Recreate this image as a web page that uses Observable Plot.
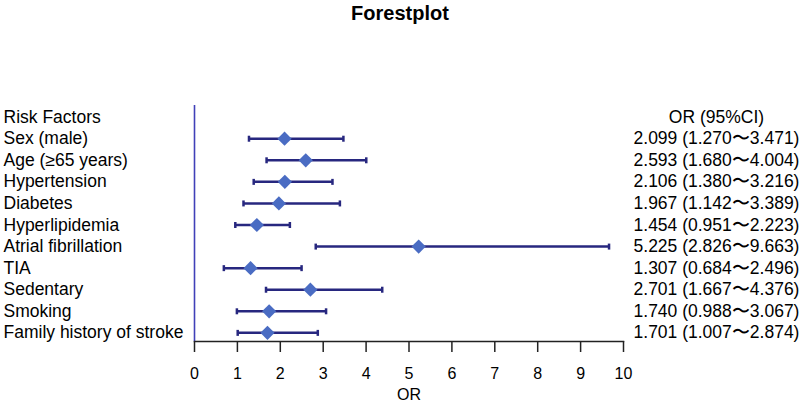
<!DOCTYPE html>
<html>
<head>
<meta charset="utf-8">
<script src="https://cdn.jsdelivr.net/npm/d3@7"></script>
<script src="https://cdn.jsdelivr.net/npm/@observablehq/plot@0.6"></script>
<style>
  html, body { margin: 0; padding: 0; background: #fff; }
  #title { width: 800px; height: 26px; line-height: 26px; text-align: center;
           font-family: "Liberation Sans", Arial, sans-serif; font-weight: bold; font-size: 20px; color: #000; }
  #chart svg { display: block; }
</style>
</head>
<body>
<div id="title">Forestplot</div>
<div id="chart"></div>
<script>
const headerLeft = "Risk Factors";
const headerRight = "OR (95%CI)";
const factors = ["Sex (male)", "Age (≥65 years)", "Hypertension", "Diabetes", "Hyperlipidemia",
  "Atrial fibrillation", "TIA", "Sedentary", "Smoking", "Family history of stroke"];
const orValues = [2.099, 2.593, 2.106, 1.967, 1.454, 5.225, 1.307, 2.701, 1.740, 1.701];
const lowerCI  = [1.270, 1.680, 1.380, 1.142, 0.951, 2.826, 0.684, 1.667, 0.988, 1.007];
const upperCI  = [3.471, 4.004, 3.216, 3.389, 2.223, 9.663, 2.496, 4.376, 3.067, 2.874];
const xTicks = [0, 1, 2, 3, 4, 5, 6, 7, 8, 9, 10];
const axisLabel = "OR";

const rows = factors.map((f, i) => ({
  row: i + 1, factor: f, or: orValues[i], lo: lowerCI[i], hi: upperCI[i],
  text: `${orValues[i].toFixed(3)} (${lowerCI[i].toFixed(3)}〜${upperCI[i].toFixed(3)})`
}));
const header = [{row: 0, left: headerLeft, right: headerRight}];

const capSymbol = {
  draw(context, size) {
    const h = Math.sqrt(size / Math.PI);
    context.moveTo(0, -h);
    context.lineTo(0, h);
  }
};

const navy = "#27277f";
const diamondBlue = "#4a6cc3";
const vlineBlue = "#4040b8";
const font = "'Liberation Sans', Arial, sans-serif";

const chart = Plot.plot({
  width: 800,
  height: 375,
  marginLeft: 194,
  marginRight: 177,
  marginTop: 79,
  marginBottom: 60,
  style: {fontFamily: font, fontSize: "16px", color: "#000", background: "#fff"},
  x: {domain: [0, 10]},
  y: {domain: [-0.54, 10.40], reverse: true, axis: null},
  marks: [
    Plot.ruleX([0], {stroke: vlineBlue, strokeWidth: 1.6}),
    Plot.frame({anchor: "bottom", stroke: "#222", strokeWidth: 1.5}),
    Plot.axisX({ticks: xTicks, tickSize: 11, tickPadding: 15, tickFormat: d => String(d),
      stroke: "#222", strokeWidth: 1.5, fontSize: 16,
      label: axisLabel, labelAnchor: "center", labelOffset: 58, labelArrow: "none"}),
    Plot.ruleY(rows, {y: "row", x1: "lo", x2: "hi", stroke: navy, strokeWidth: 2.5}),
    Plot.dot(rows, {x: "lo", y: "row", symbol: capSymbol, r: 3, stroke: navy, strokeWidth: 2.5, fill: "none"}),
    Plot.dot(rows, {x: "hi", y: "row", symbol: capSymbol, r: 3, stroke: navy, strokeWidth: 2.5, fill: "none"}),
    Plot.dot(rows, {x: "or", y: "row", symbol: "diamond2", r: 6.4, fill: diamondBlue, stroke: "none"}),
    Plot.text(header, {y: "row", text: "left", frameAnchor: "left", textAnchor: "start", dx: -191, fontSize: 17.5, fill: "#000"}),
    Plot.text(rows, {y: "row", text: "factor", frameAnchor: "left", textAnchor: "start", dx: -191, fontSize: 17.5, fill: "#000"}),
    Plot.text(header, {y: "row", text: "right", frameAnchor: "right", textAnchor: "middle", dx: 93, fontSize: 17.5, fill: "#000"}),
    Plot.text(rows, {y: "row", text: "text", frameAnchor: "right", textAnchor: "middle", dx: 93, fontSize: 17.5, fill: "#000"})
  ]
});
document.getElementById("chart").appendChild(chart);
</script>
</body>
</html>
